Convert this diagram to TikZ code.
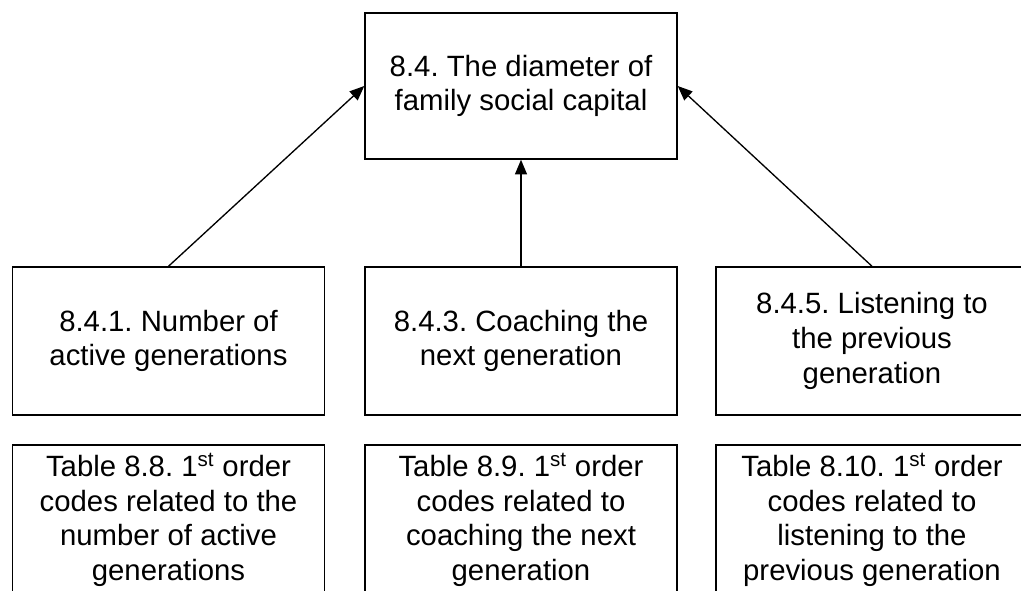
\documentclass[tikz,border=0pt]{standalone}
\usepackage{fontspec}
\setmainfont{Liberation Sans}
\usetikzlibrary{arrows.meta,positioning}
\frenchspacing

\begin{document}
\begin{tikzpicture}[
    x=0.75pt, y=-0.75pt,
    box/.style={draw, line width=1.1pt, minimum width=234pt, minimum height=111pt, inner sep=2pt, align=center, font=\fontsize{22}{26}\selectfont},
    arr/.style={-{Triangle[length=11pt,width=9pt]}, line width=1pt}
]
\useasboundingbox (0,0) rectangle (1021,590);
\clip (0,0) rectangle (1021,590);
\node[box, minimum height=109.5pt] (diam) at (521,86) {8.4. The diameter of\\family social capital};

\node[box] (gens) at (168.5,341) {8.4.1. Number of\\active generations};
\node[box] (coach) at (521,341) {8.4.3. Coaching the\\next generation};
\node[box] (listen) at (872,341) {8.4.5. Listening to\\the previous\\generation};

\node[box, minimum height=112.5pt] (tgens) at (168.5,520) {Table 8.8. 1\textsuperscript{st} order\\codes related to the\\number of active\\generations};
\node[box, minimum height=112.5pt] (tcoach) at (521,520) {Table 8.9. 1\textsuperscript{st} order\\codes related to\\coaching the next\\generation};
\node[box, minimum height=112.5pt] (tlisten) at (872,520) {Table 8.10. 1\textsuperscript{st} order\\codes related to\\listening to the\\previous generation};

\draw[arr] (gens.north) -- (diam.west);
\draw[arr] (coach.north) -- (diam.south);
\draw[arr] (listen.north) -- (diam.east);
\end{tikzpicture}
\end{document}
